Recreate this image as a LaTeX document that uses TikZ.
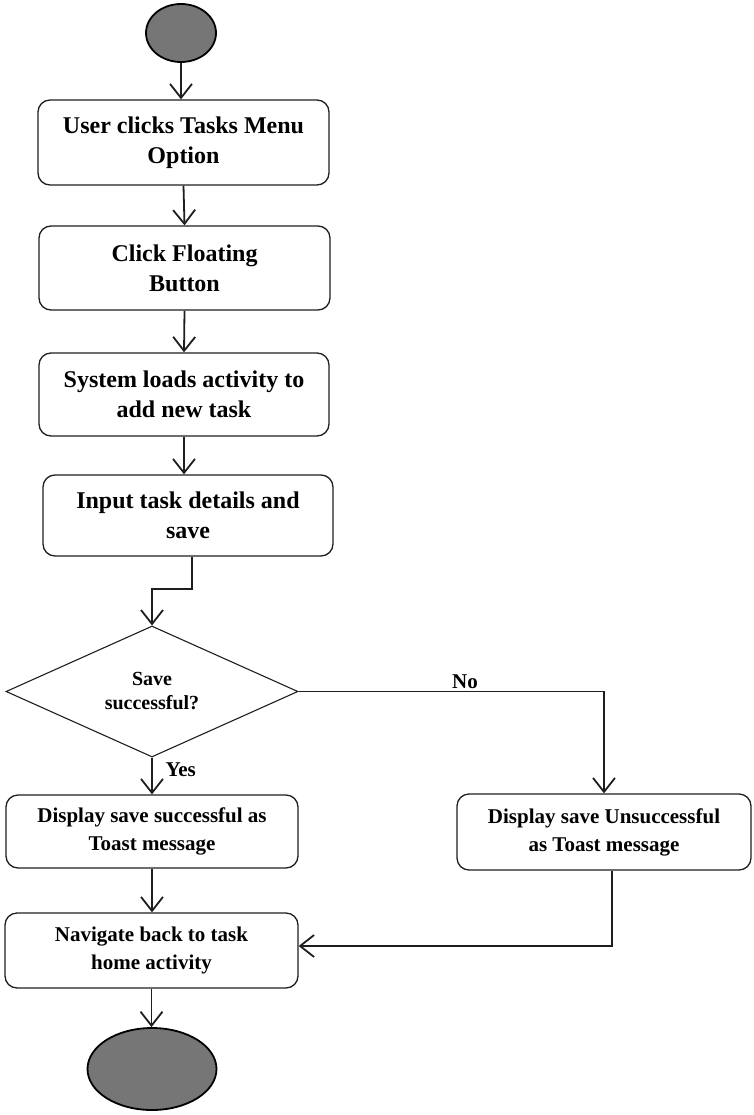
\documentclass[tikz,border=0pt]{standalone}
\usepackage{fontspec}
\setmainfont{Liberation Serif}
\usetikzlibrary{shapes.geometric,arrows.meta}
\definecolor{termfill}{RGB}{118,118,118}
\definecolor{linecol}{RGB}{30,30,30}
\begin{document}
\begin{tikzpicture}[x=1pt,y=-1pt,
  big/.style={font=\fontsize{24}{30}\selectfont\bfseries},
  small/.style={font=\fontsize{21}{28}\selectfont\bfseries},
  dectext/.style={font=\fontsize{20}{24}\selectfont\bfseries},
  stepbox/.style={draw=linecol,line width=1.3pt,rounded corners=12pt,align=center,inner sep=0pt},
  term/.style={ellipse,draw=black,line width=1.8pt,fill=termfill,inner sep=0pt},
  flow/.style={draw=linecol,line width=1.8pt,-{Straight Barb[length=14pt,width=22pt,line width=1.8pt]}},
]
\useasboundingbox (0,0) rectangle (754,1115);
\node[term,minimum width=70pt,minimum height=58pt] (start) at (181,33) {};
\node[stepbox,big,minimum width=291pt,minimum height=85pt] (b1) at (183.5,142.5) {User clicks Tasks Menu\\Option};
\node[stepbox,big,minimum width=291pt,minimum height=84pt] (b2) at (184.5,268) {Click Floating\\Button};
\node[stepbox,big,minimum width=290pt,minimum height=83pt] (b3) at (184,394.5) {System loads activity to\\add new task};
\node[stepbox,big,minimum width=290pt,minimum height=81pt] (b4) at (188,515.5) {Input task details and\\save};
\node[diamond,draw=linecol,line width=1.1pt,aspect=2.2,inner sep=0pt,minimum width=292pt,minimum height=131pt,dectext,align=center] (dec) at (152,691.5) {Save\\successful?};
\node[stepbox,small,minimum width=292pt,minimum height=73pt] (b5) at (152,831.5) {Display save successful as\\Toast message};
\node[stepbox,small,minimum width=294pt,minimum height=76pt] (b6) at (604,832) {Display save Unsuccessful\\as Toast message};
\node[stepbox,small,minimum width=293pt,minimum height=75pt] (b7) at (151.5,950.5) {Navigate back to task\\home activity};
\node[term,minimum width=129pt,minimum height=82pt] (end) at (152,1069) {};
\coordinate (j1) at (192,589);
\coordinate (j2) at (612,946);
\draw[flow] (start.south) -- (start.south |- b1.north);
\draw[flow] (b1.south) -- (b2.north);
\draw[flow] (b2.south) -- (b3.north);
\draw[flow] (b3.south) -- (b3.south |- b4.north);
\draw[flow] (j1 |- b4.south) -- (j1) -| (dec.north);
\draw[flow] (dec.east) -| (b6.north);
\node[small,anchor=base] (nolab) at (465,688) {No};
\draw[flow] (dec.south) -- (dec.south |- b5.north);
\node[small,anchor=base west] (yeslab) at (162,776) {Yes};
\draw[flow] (b5.south) -- (b5.south |- b7.north);
\draw[flow] (j2 |- b6.south) -- (j2) -- (j2 -| b7.east);
\draw[flow] (b7.south) -- (b7.south |- end.north);
\end{tikzpicture}
\end{document}
